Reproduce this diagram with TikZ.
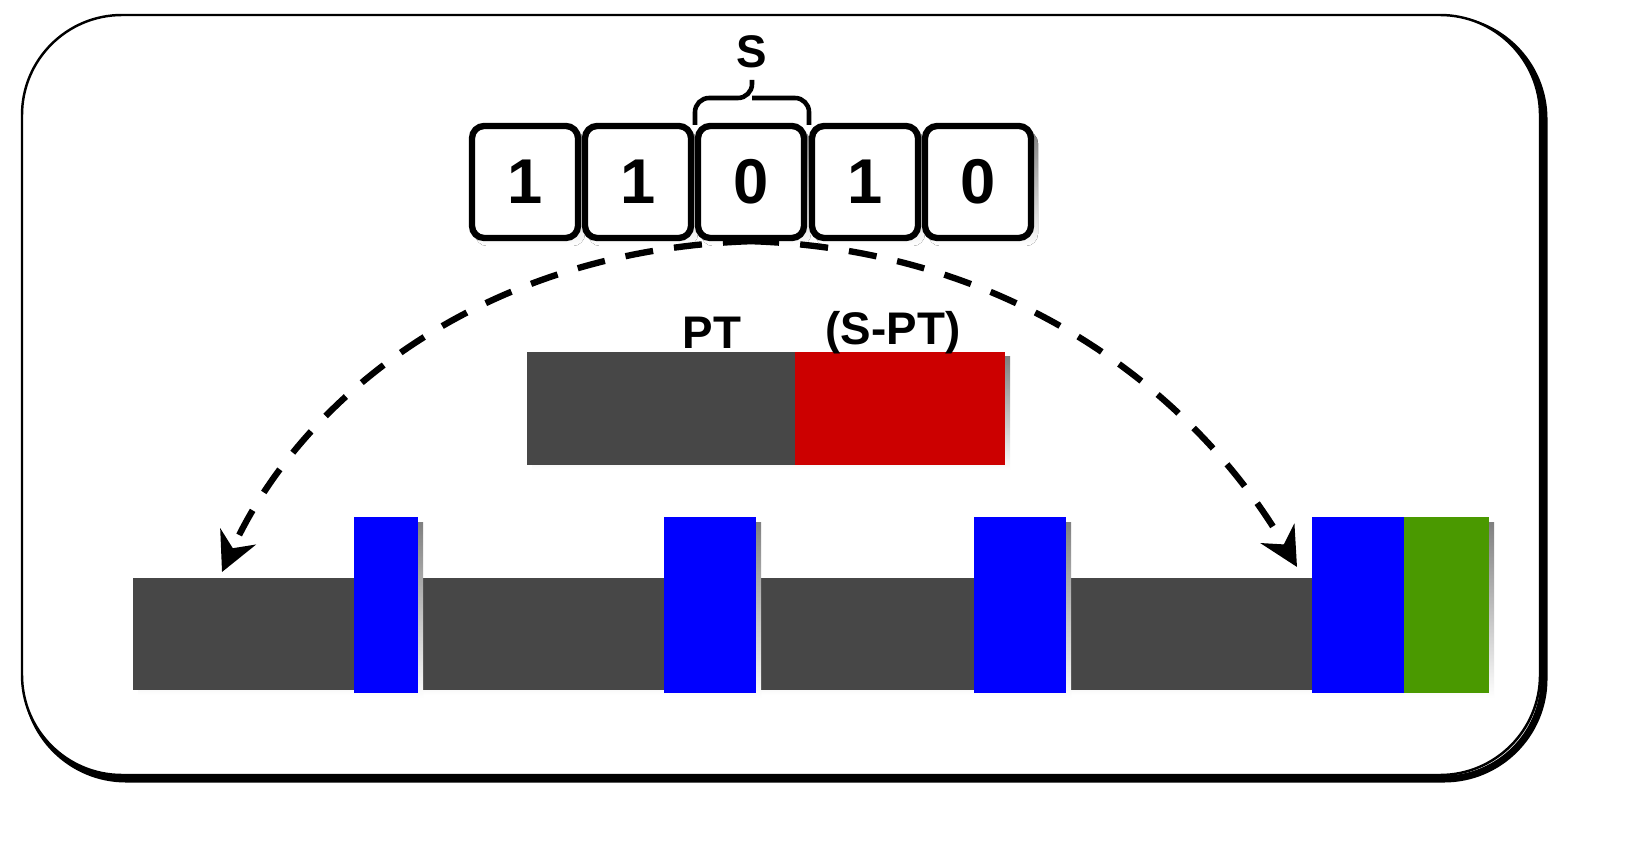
\documentclass[tikz,border=0pt]{standalone}
\usepackage{fontspec}
\setmainfont{Liberation Sans}
\usetikzlibrary{arrows.meta,calc,positioning}
\definecolor{bargray}{HTML}{474747}
\definecolor{barred}{HTML}{CC0000}
\definecolor{barblue}{HTML}{0000FF}
\definecolor{bargreen}{HTML}{4A9900}
\definecolor{shade}{HTML}{DADADA}
\tikzset{
	bit/.style={draw, line width=1.8pt, rounded corners=3.5pt, minimum width=1.06cm, minimum height=1.12cm,
		inner sep=0pt, fill=white, font=\fontsize{18}{20}\selectfont\bfseries},
	lbl/.style={font=\fontsize{13}{15}\selectfont\bfseries},
	arc/.style={line width=1.8pt, dash pattern=on 8pt off 6pt, -{Stealth[length=11pt, width=11pt]}}
}
\newcommand\blk[3]{\fill[shade] ($#2+(5,5)$) rectangle ($#3+(5,5)$); \fill[#1] #2 rectangle #3;}
\begin{document}
	\begin{tikzpicture}[x=0.01cm, y=-0.01cm]
		\useasboundingbox (0,0) rectangle (1652,846);
		\draw[shade, line width=2pt, rounded corners=1cm] (26,19) rectangle (1544,779);
		\draw[line width=0.7pt, rounded corners=1cm, fill=white] (22,15) rectangle (1540,775);
		% bits
		\foreach \i/\x/\v in {1/525/1, 2/638/1, 3/751/0, 4/865/1, 5/978/0}
			\fill[shade, rounded corners=3.5pt] (\x-50,131) rectangle (\x+60,246);
		\node[bit] (b1) at (525,182) {1};
		\node[bit] (b2) at (638,182) {1};
		\node[bit] (b3) at (751,182) {0};
		\node[bit] (b4) at (865,182) {1};
		\node[bit] (b5) at (978,182) {0};
		\draw[line width=1.3pt, rounded corners=4pt] (695,125) -- (695,98) -- (752,98) -- (752,80);
		\draw[line width=1.3pt, rounded corners=4pt] (809,125) -- (809,98) -- (752,98);
		\node[lbl] (s) at (752,52) {S};
		% middle bar
		\blk{bargray}{(527,352)}{(795,465)}
		\blk{barred}{(795,352)}{(1005,465)}
		\node[lbl] (pt) at (712,333) {PT};
		\node[lbl] (spt) at (893,333) {(S-PT)};
		% bottom bar
		\blk{bargray}{(133,578)}{(1312,690)}
		\foreach \a/\b in {354/418, 664/756, 974/1066, 1312/1404}
			{\blk{barblue}{(\a,517)}{(\b,693)}}
		\blk{bargreen}{(1404,517)}{(1489,693)}
		% arcs
		\path (222,572) coordinate (l) (1297,567) coordinate (r);
		\draw[arc] (b3.south) .. controls (480,250) and (300,400) .. (l);
		\draw[arc] (b3.south) .. controls (1020,250) and (1200,400) .. (r);
	\end{tikzpicture}
\end{document}
